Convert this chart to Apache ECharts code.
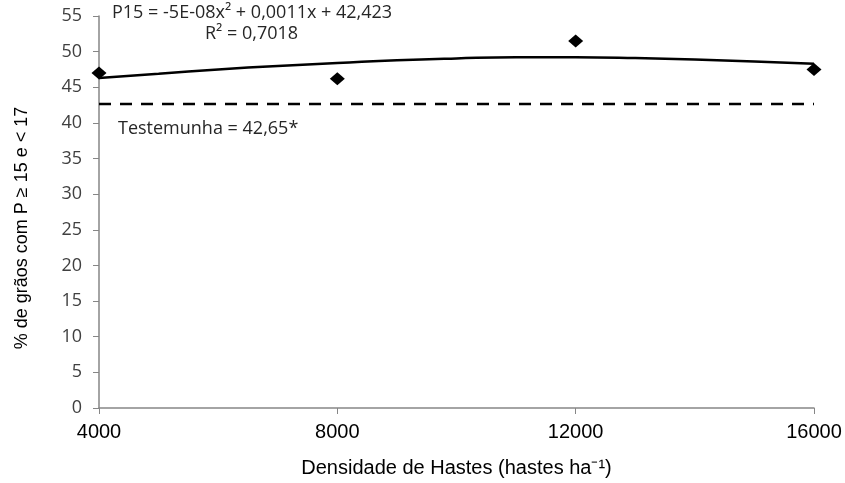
<!DOCTYPE html>
<html>
<head>
<meta charset="utf-8">
<script src="https://cdn.jsdelivr.net/npm/echarts@6/dist/echarts.min.js"></script>
<style>
html,body{margin:0;padding:0;background:#fff;}
#chart{width:845px;height:483px;}
</style>
</head>
<body>
<div id="chart"></div>
<script>
// Observed data points
const densidade = [4000, 8000, 12000, 16000];
const p15 = [47.0, 46.2, 51.5, 47.5];
// Fitted curve
const curveX = [4000, 5000, 6000, 7000, 8000, 9000, 10000, 11000, 12000, 13000, 14000, 15000, 16000];
const curveY = [46.3, 46.9, 47.5, 48.0, 48.4, 48.8, 49.05, 49.2, 49.2, 49.1, 48.9, 48.6, 48.3];
// Control (Testemunha)
const testemunhaX = [4000, 16000];
const testemunhaY = [42.65, 42.65];
const xTicks = [4000, 8000, 12000, 16000];

const chart = echarts.init(document.getElementById('chart'));
chart.setOption({
  animation: false,
  backgroundColor: '#ffffff',
  grid: {left: 99, right: 31, top: 16, bottom: 75},
  xAxis: {
    type: 'value', min: xTicks[0], max: xTicks[xTicks.length - 1], interval: 4000,
    name: 'Densidade de Hastes (hastes ha⁻¹)', nameLocation: 'middle', nameGap: 50,
    nameTextStyle: {fontFamily: 'Liberation Sans', fontSize: 20, color: '#000'},
    axisLine: {show: true, lineStyle: {color: '#868686', width: 1.5}},
    axisTick: {show: true, length: 6, lineStyle: {color: '#868686'}},
    axisLabel: {fontFamily: 'Liberation Sans', fontSize: 20, color: '#000', margin: 14,
      formatter: v => String(v)},
    splitLine: {show: false}
  },
  yAxis: {
    type: 'value', min: 0, max: 55, interval: 5,
    name: '% de grãos com P ≥ 15 e < 17', nameLocation: 'middle', nameGap: 68,
    nameTextStyle: {fontFamily: 'Liberation Sans', fontSize: 18, color: '#000', padding: [0, 32, 0, 0]},
    axisLine: {show: true, lineStyle: {color: '#868686', width: 1.5}},
    axisTick: {show: true, length: 6, lineStyle: {color: '#868686'}},
    axisLabel: {fontFamily: 'Open Sans', fontSize: 18, color: '#404040', margin: 17},
    splitLine: {show: false}
  },
  series: [
    {
      type: 'line', data: testemunhaX.map((x, i) => [x, testemunhaY[i]]),
      symbol: 'none', lineStyle: {color: '#000', width: 2.5, type: [12, 9]}, z: 2
    },
    {
      type: 'line', data: curveX.map((x, i) => [x, curveY[i]]),
      smooth: true, symbol: 'none', lineStyle: {color: '#000', width: 2.5}, z: 3
    },
    {
      type: 'scatter', data: densidade.map((x, i) => [x, p15[i]]),
      symbol: 'diamond', symbolSize: [15, 13], itemStyle: {color: '#000', opacity: 1}, z: 4
    }
  ],
  graphic: [
    {type: 'text', left: 112, top: 4, style: {text: 'P15 = -5E-08x² + 0,0011x + 42,423', fontFamily: 'Open Sans', fontSize: 18, fill: '#262626'}},
    {type: 'text', left: 205, top: 25, style: {text: 'R² = 0,7018', fontFamily: 'Open Sans', fontSize: 18, fill: '#262626'}},
    {type: 'text', left: 118, top: 120, style: {text: 'Testemunha = 42,65*', fontFamily: 'Open Sans', fontSize: 18, fill: '#262626'}}
  ]
});
</script>
</body>
</html>
